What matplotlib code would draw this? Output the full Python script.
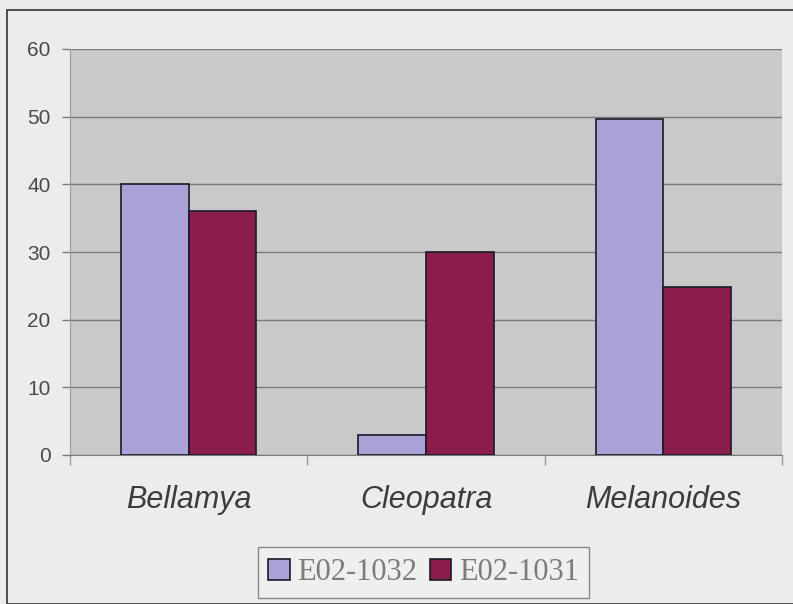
import matplotlib
matplotlib.use("Agg")
import matplotlib.pyplot as plt
import numpy as np
from matplotlib.patches import Rectangle, Patch

# Data
categories = ["Bellamya", "Cleopatra", "Melanoides"]
series_names = ["E02-1032", "E02-1031"]
e02_1032 = [40, 3, 49.7]
e02_1031 = [36, 30, 24.8]
y_ticks = [0, 10, 20, 30, 40, 50, 60]

colors = ["#aaa2d6", "#8a1d4b"]
W, H = 793, 604
fig = plt.figure(figsize=(W / 100, H / 100), dpi=100)
fig.patch.set_facecolor("#ececec")

# outer chart border
fig.patches.append(Rectangle((7 / W, 0), 1.0, 1 - 10 / H, transform=fig.transFigure,
                             fill=False, edgecolor="#333333", linewidth=1.2))

left, right, top, bottom = 70, 782, 49, 455
ax = fig.add_axes([left / W, 1 - bottom / H, (right - left) / W, (bottom - top) / H])
ax.set_facecolor("#c9c9c9")

x = np.arange(len(categories))
bw = 1 / 3.5
ax.bar(x - bw / 2, e02_1032, bw, color=colors[0], edgecolor="#1a1a2a", linewidth=1.2,
       zorder=3, label=series_names[0])
ax.bar(x + bw / 2, e02_1031, bw, color=colors[1], edgecolor="#1a1a2a", linewidth=1.2,
       zorder=3, label=series_names[1])

ax.set_xlim(-0.5, len(categories) - 0.5)
ax.set_ylim(0, 60)
ax.set_yticks(y_ticks)
ax.set_yticklabels([str(v) for v in y_ticks], fontsize=15, color="#4a4a4a",
                   family="Liberation Sans")
ax.yaxis.grid(True, color="#7a7a7a", linewidth=1.0, zorder=1)
ax.set_axisbelow(True)
ax.tick_params(axis="y", length=6, width=1, color="#7a7a7a", pad=8)

# category boundary ticks on the x axis
ax.set_xticks(np.arange(-0.5, len(categories), 1.0))
ax.set_xticklabels([])
ax.tick_params(axis="x", length=7, width=1, color="#9a9a9a")
for xi, name in zip(x, categories):
    ax.text(xi, -0.11, name, transform=ax.get_xaxis_transform(), ha="center", va="center",
            fontsize=22, style="italic", color="#3c3c3c", family="Liberation Sans")

for s in ["top", "right"]:
    ax.spines[s].set_visible(False)
ax.spines["left"].set_color("#9a9a9a")
ax.spines["bottom"].set_color("#7a7a7a")

handles = [Patch(facecolor=colors[0], edgecolor="#1a1a2a", linewidth=1.2),
           Patch(facecolor=colors[1], edgecolor="#1a1a2a", linewidth=1.2)]
leg = fig.legend(handles, series_names, loc="center",
                 bbox_to_anchor=(423.5 / W, 1 - 572.5 / H), ncol=2, frameon=True,
                 fancybox=False, edgecolor="#8a8a8a", facecolor="#efefef",
                 prop={"family": "Liberation Serif", "size": 22},
                 handlelength=0.7, handleheight=0.7, handletextpad=0.25,
                 columnspacing=0.4, borderpad=0.35, framealpha=1)
for t in leg.get_texts():
    t.set_color("#7c7c7c")

fig.savefig("out.png", dpi=100, facecolor=fig.get_facecolor())
